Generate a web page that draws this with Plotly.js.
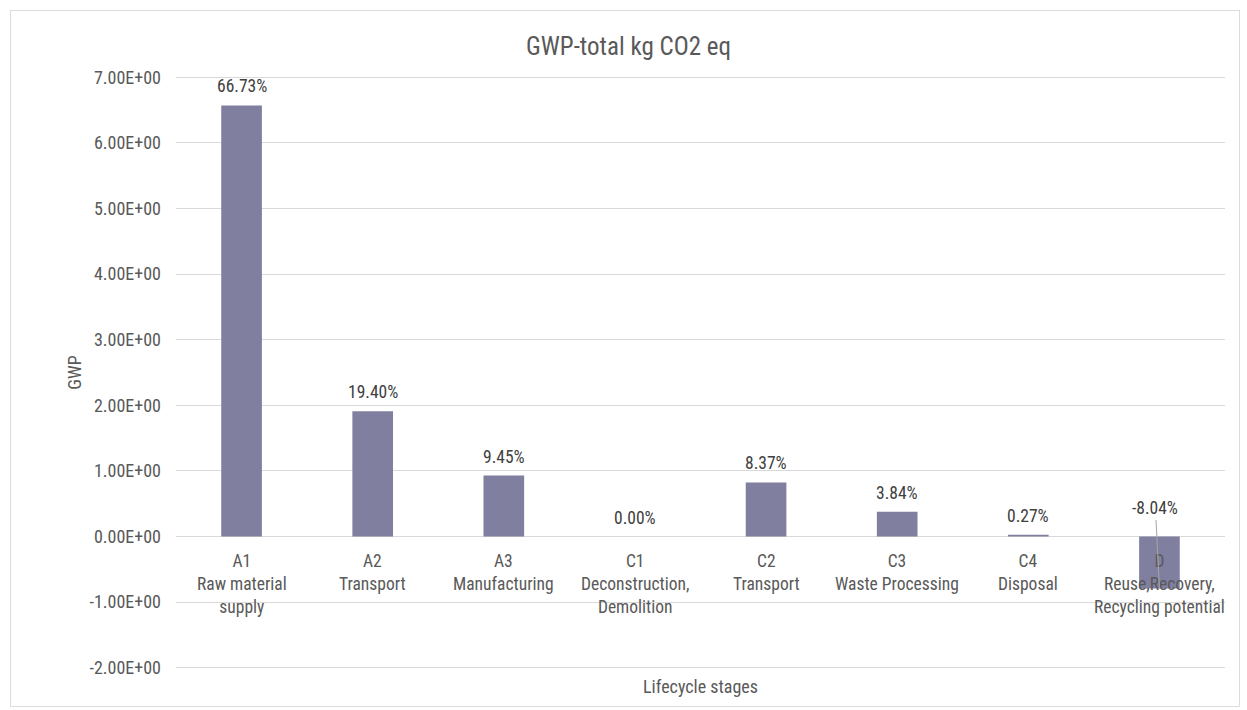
<!DOCTYPE html>
<html>
<head>
<meta charset="utf-8">
<script src="https://cdn.plot.ly/plotly-3.0.1.min.js"></script>
<style>
  html, body { margin: 0; padding: 0; background: #ffffff; }
  #frame { position: absolute; left: 10px; top: 10px; width: 1230px; height: 697px; border: 1px solid #dcdcdc; box-sizing: border-box; pointer-events: none; z-index: 5; }
  #chart { position: absolute; left: 0; top: 0; width: 1247px; height: 710px; }
</style>
</head>
<body>
<div id="chart"></div>
<div id="frame"></div>
<script>
const categories = ["A1", "A2", "A3", "C1", "C2", "C3", "C4", "D"];
const stageNames = [
  "A1<br>Raw material<br>supply",
  "A2<br>Transport",
  "A3<br>Manufacturing",
  "C1<br>Deconstruction,<br>Demolition",
  "C2<br>Transport",
  "C3<br>Waste Processing",
  "C4<br>Disposal",
  "D<br>Reuse,Recovery,<br>Recycling potential"
];
const gwpValues = [6.57, 1.91, 0.93, 0.0, 0.824, 0.378, 0.0266, -0.792];
const pctLabels = ["66.73%", "19.40%", "9.45%", "0.00%", "8.37%", "3.84%", "0.27%", "-8.04%"];
const yTickVals = [-2, -1, 0, 1, 2, 3, 4, 5, 6, 7];
const yTickText = ["-2.00E+00", "-1.00E+00", "0.00E+00", "1.00E+00", "2.00E+00", "3.00E+00", "4.00E+00", "5.00E+00", "6.00E+00", "7.00E+00"];

const FONT = "'Liberation Sans Narrow', 'Arial Narrow', 'Roboto Condensed', Roboto, 'Liberation Sans', sans-serif";
const TXT = "#595959";

const annotations = [];
categories.forEach((c, i) => {
  annotations.push({
    x: c, y: 0, xref: "x", yref: "y",
    text: stageNames[i], showarrow: false,
    yanchor: "top", yshift: -12,
    font: {family: FONT, size: 17.5, color: TXT}
  });
  const v = gwpValues[i];
  if (v >= 0) {
    annotations.push({
      x: c, y: v, xref: "x", yref: "y",
      text: pctLabels[i], showarrow: false,
      yanchor: "bottom", yshift: 7,
      font: {family: FONT, size: 17.5, color: "#404040"}
    });
  } else {
    annotations.push({
      x: c, y: v, xref: "x", yref: "y",
      text: pctLabels[i], showarrow: true,
      arrowhead: 0, arrowwidth: 1, arrowcolor: "#a6a6a6",
      ax: -4, ay: -80, standoff: 0,
      font: {family: FONT, size: 17.5, color: "#404040"}
    });
  }
});

const trace = {
  type: "bar",
  x: categories,
  y: gwpValues,
  marker: {color: "rgb(128,127,160)"},
  hoverinfo: "x+y"
};

const layout = {
  width: 1247, height: 710,
  paper_bgcolor: "rgba(0,0,0,0)",
  plot_bgcolor: "rgba(0,0,0,0)",
  margin: {l: 176, r: 22, t: 74, b: 39},
  bargap: 0.69,
  showlegend: false,
  font: {family: FONT, color: TXT},
  title: {
    text: "GWP-total kg CO2 eq",
    xref: "container", x: 0.504, xanchor: "center",
    yref: "container", y: 0.935, yanchor: "middle",
    font: {family: FONT, size: 25, color: TXT}
  },
  xaxis: {
    type: "category",
    range: [-0.5, 7.5],
    showticklabels: false,
    showgrid: false, zeroline: false, showline: false, ticks: "",
    title: {text: "Lifecycle stages", standoff: 9, font: {family: FONT, size: 18, color: TXT}}
  },
  yaxis: {
    range: [-2.05, 7.05],
    tickvals: yTickVals,
    ticktext: yTickText,
    tickfont: {family: FONT, size: 18, color: TXT},
    ticks: "", ticklabelstandoff: 14,
    showgrid: true, gridcolor: "#d9d9d9", gridwidth: 1,
    zeroline: true, zerolinecolor: "#d9d9d9", zerolinewidth: 1,
    showline: false,
    title: {text: "GWP", standoff: 3, font: {family: FONT, size: 18, color: TXT}}
  },
  annotations: annotations
};

Plotly.newPlot("chart", [trace], layout, {displayModeBar: false, staticPlot: true});
</script>
</body>
</html>
